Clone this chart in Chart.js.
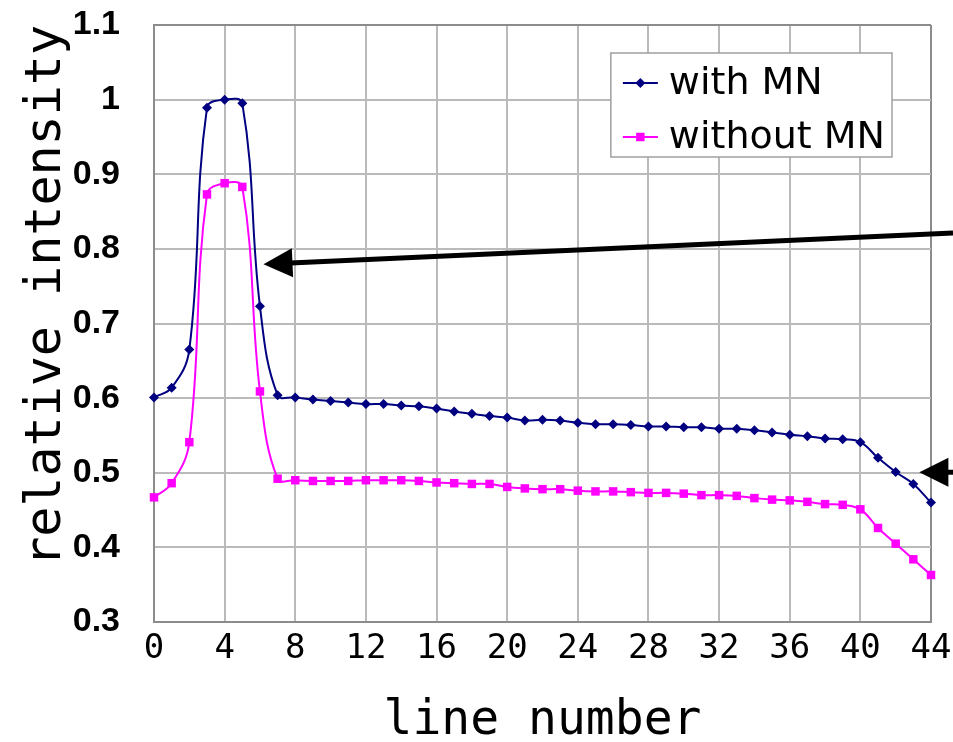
<!DOCTYPE html>
<html>
<head>
<meta charset="utf-8">
<script src="https://cdn.jsdelivr.net/npm/chart.js@4.4.1/dist/chart.umd.min.js"></script>
<style>
  html, body { margin: 0; padding: 0; background: #ffffff; }
  #wrap { width: 953px; height: 742px; }
</style>
</head>
<body>
<div id="wrap"><canvas id="c" width="953" height="742"></canvas></div>
<script>
// ---------------- data ----------------
const lineNumbers = [0,1,2,3,4,5,6,7,8,9,10,11,12,13,14,15,16,17,18,19,20,21,22,23,24,25,26,27,28,29,30,31,32,33,34,35,36,37,38,39,40,41,42,43,44];
const withMN = [0.601,0.614,0.665,0.989,1.000,0.995,0.723,0.604,0.601,0.598,0.596,0.594,0.592,0.592,0.590,0.589,0.586,0.582,0.579,0.576,0.574,0.570,0.571,0.570,0.567,0.565,0.565,0.564,0.562,0.562,0.561,0.561,0.559,0.559,0.557,0.554,0.551,0.549,0.546,0.545,0.541,0.520,0.501,0.485,0.460];
const withoutMN = [0.467,0.486,0.541,0.873,0.888,0.883,0.609,0.492,0.490,0.489,0.489,0.489,0.490,0.490,0.490,0.489,0.487,0.486,0.485,0.485,0.481,0.479,0.478,0.478,0.476,0.475,0.475,0.474,0.473,0.473,0.472,0.470,0.470,0.469,0.466,0.464,0.463,0.461,0.458,0.457,0.451,0.426,0.405,0.384,0.363];
const seriesLabels = ['with MN', 'without MN'];
const xTickValues = [0,4,8,12,16,20,24,28,32,36,40,44];
const xTickLabels = ['0','4','8','12','16','20','24','28','32','36','40','44'];
const yTickValues = [0.3,0.4,0.5,0.6,0.7,0.8,0.9,1.0,1.1];
const yTickLabels = ['0.3','0.4','0.5','0.6','0.7','0.8','0.9','1','1.1'];
const xTitle = 'line number';
const yTitle = 'relative intensity';
// arrow annotations in data units (tip point; tail runs to the canvas right edge)
const arrowTipX = [6.2, 43.34];
const arrowTipY = [0.7795, 0.5007];
const arrowTailY = [0.8214, 0.5007];

// ---------------- styles ----------------
const BLUE = '#000080';
const MAGENTA = '#ff00ff';
const GRID = '#bababa';
const EDGE = '#8c8c8c';

const toPoints = (ys) => lineNumbers.map((x, i) => ({ x: x, y: ys[i] }));

const boxLegend = {
  id: 'boxLegend',
  afterDatasetsDraw(chart) {
    const ctx = chart.ctx, ca = chart.chartArea;
    ctx.save();
    ctx.font = '38px "DejaVu Sans"';
    const ds = chart.data.datasets;
    const tw = Math.max(...ds.map(d => ctx.measureText(d.label).width));
    const padL = 12, sample = 35, gap = 11, padR = 7, h = 104;
    const w = padL + sample + gap + tw + padR;
    const right = ca.right - 39, top = ca.top + 28, left = right - w;
    ctx.fillStyle = '#ffffff';
    ctx.fillRect(left, top, w, h);
    ctx.strokeStyle = '#a0a0a0';
    ctx.lineWidth = 1.5;
    ctx.strokeRect(left, top, w, h);
    ds.forEach((d, i) => {
      const y = top + 30 + i * 54;
      const x0 = left + padL, x1 = x0 + sample, xm = (x0 + x1) / 2;
      ctx.strokeStyle = d.borderColor;
      ctx.lineWidth = 2;
      ctx.beginPath(); ctx.moveTo(x0, y); ctx.lineTo(x1, y); ctx.stroke();
      ctx.fillStyle = d.pointBackgroundColor;
      const r = d.pointRadius;
      ctx.beginPath();
      if (d.pointStyle === 'rectRot') {
        ctx.moveTo(xm, y - r); ctx.lineTo(xm + r, y); ctx.lineTo(xm, y + r); ctx.lineTo(xm - r, y);
      } else {
        const s = r * Math.SQRT1_2;
        ctx.rect(xm - s, y - s, 2 * s, 2 * s);
      }
      ctx.closePath(); ctx.fill();
      ctx.fillStyle = '#000000';
      ctx.textBaseline = 'middle';
      ctx.textAlign = 'left';
      ctx.fillText(d.label, x1 + gap, y + 1);
    });
    ctx.restore();
  }
};

const arrows = {
  id: 'arrows',
  afterDraw(chart) {
    const ctx = chart.ctx;
    const xs = chart.scales.x, ys = chart.scales.y;
    ctx.save();
    ctx.fillStyle = '#000000';
    ctx.strokeStyle = '#000000';
    arrowTipX.forEach((tx0, i) => {
      const tx = xs.getPixelForValue(tx0), ty = ys.getPixelForValue(arrowTipY[i]);
      const ex = chart.width, ey = ys.getPixelForValue(arrowTailY[i]);
      const ang = Math.atan2(ey - ty, ex - tx);
      const c = Math.cos(ang), s = Math.sin(ang);
      const L = 29, W = 14.5;
      ctx.lineWidth = 5;
      ctx.beginPath();
      ctx.moveTo(tx + c * (L - 2), ty + s * (L - 2));
      ctx.lineTo(ex, ey);
      ctx.stroke();
      ctx.beginPath();
      ctx.moveTo(tx, ty);
      ctx.lineTo(tx + c * L - s * W, ty + s * L + c * W);
      ctx.lineTo(tx + c * L + s * W, ty + s * L - c * W);
      ctx.closePath();
      ctx.fill();
    });
    ctx.restore();
  }
};

new Chart(document.getElementById('c'), {
  type: 'line',
  data: {
    datasets: [
      {
        label: seriesLabels[0],
        data: toPoints(withMN),
        borderColor: BLUE,
        backgroundColor: BLUE,
        pointBackgroundColor: BLUE,
        pointBorderColor: BLUE,
        pointStyle: 'rectRot',
        pointRadius: 5,
        pointBorderWidth: 0,
        borderWidth: 2,
        tension: 0.4,
        fill: false,
        clip: false
      },
      {
        label: seriesLabels[1],
        data: toPoints(withoutMN),
        borderColor: MAGENTA,
        backgroundColor: MAGENTA,
        pointBackgroundColor: MAGENTA,
        pointBorderColor: MAGENTA,
        pointStyle: 'rect',
        pointRadius: 6,
        pointBorderWidth: 0,
        borderWidth: 2,
        tension: 0.4,
        fill: false,
        clip: false
      }
    ]
  },
  options: {
    responsive: false,
    animation: false,
    events: [],
    layout: { padding: { top: 25, right: 22, left: 0, bottom: 0 } },
    plugins: {
      legend: { display: false },
      tooltip: { enabled: false },
      title: { display: false }
    },
    scales: {
      x: {
        type: 'linear',
        min: 0,
        max: 44,
        afterBuildTicks: (scale) => { scale.ticks = xTickValues.map(v => ({ value: v })); },
        afterFit: (scale) => { scale.height = 120; scale.paddingLeft = 0; scale.paddingRight = 0; },
        ticks: {
          callback: (v, i) => xTickLabels[i],
          color: '#000000',
          font: { family: '"DejaVu Sans Mono"', size: 34 },
          padding: 7,
          maxRotation: 0,
          autoSkip: false
        },
        grid: {
          color: (c) => (c.tick && c.tick.value === 44) ? EDGE : GRID,
          lineWidth: 2,
          drawTicks: false
        },
        border: { display: true, color: EDGE, width: 2 },
        title: {
          display: true,
          text: xTitle,
          color: '#000000',
          font: { family: '"DejaVu Sans Mono"', size: 48, lineHeight: 1 },
          padding: { top: 0, bottom: -4 }
        }
      },
      y: {
        type: 'linear',
        min: 0.3,
        max: 1.1,
        afterBuildTicks: (scale) => { scale.ticks = yTickValues.map(v => ({ value: v })); },
        afterFit: (scale) => { scale.width = 154; scale.paddingTop = 0; scale.paddingBottom = 0; },
        ticks: {
          callback: (v, i) => yTickLabels[i],
          color: '#000000',
          font: { family: '"Liberation Sans"', size: 34, weight: 'bold' },
          padding: 34
        },
        grid: {
          color: (c) => (c.tick && Math.abs(c.tick.value - 1.1) < 1e-6) ? EDGE : GRID,
          lineWidth: 2,
          drawTicks: false
        },
        border: { display: true, color: EDGE, width: 2 },
        title: {
          display: true,
          text: yTitle,
          align: 'end',
          color: '#000000',
          font: { family: '"DejaVu Sans Mono"', size: 50, lineHeight: 1 },
          padding: { top: 22, bottom: 0 }
        }
      }
    }
  },
  plugins: [boxLegend, arrows]
});
</script>
</body>
</html>
